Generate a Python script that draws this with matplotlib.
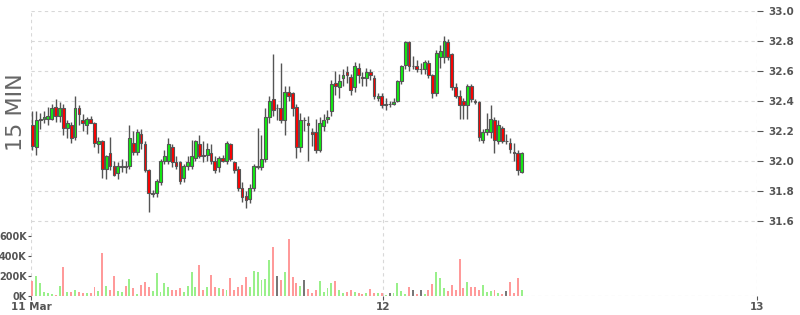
import matplotlib
matplotlib.use('Agg')
import matplotlib.pyplot as plt
import numpy as np

# 15-minute candles, 11-12 Mar
opens = [32.24, 32.09, 32.27, 32.28, 32.28, 32.28, 32.36, 32.30, 32.35, 32.22,
         32.24, 32.16, 32.35, 32.27, 32.24, 32.28, 32.25, 32.11, 32.13, 31.95,
         32.05, 31.97, 31.92, 31.96, 31.97, 31.97, 32.12, 32.06, 32.18, 32.11,
         31.94, 31.78, 31.79, 31.86, 32.00, 32.00, 32.09, 31.99, 31.99, 31.89,
         31.97, 31.97, 32.02, 32.11, 32.04, 32.04, 32.05, 32.00, 31.96, 32.02,
         32.00, 32.11, 31.99, 31.95, 31.82, 31.77, 31.75, 31.82, 31.96, 31.96,
         32.01, 32.29, 32.41, 32.35, 32.35, 32.27, 32.46, 32.45, 32.36, 32.09,
         32.27, 32.25, 32.19, 32.19, 32.07, 32.23, 32.28, 32.33, 32.52, 32.49,
         32.55, 32.59, 32.56, 32.49, 32.62, 32.56, 32.55, 32.59, 32.55, 32.42,
         32.43, 32.37, 32.38, 32.38, 32.40, 32.53, 32.64, 32.79, 32.63, 32.63,
         32.61, 32.61, 32.65, 32.57, 32.45, 32.69, 32.69, 32.79, 32.71, 32.49,
         32.43, 32.40, 32.37, 32.50, 32.40, 32.39, 32.14, 32.19, 32.19, 32.27,
         32.13, 32.22, 32.13, 32.12, 32.06, 32.05, 31.93]
highs = [32.33, 32.33, 32.32, 32.33, 32.36, 32.38, 32.41, 32.39, 32.38, 32.27,
         32.26, 32.43, 32.37, 32.31, 32.29, 32.30, 32.26, 32.16, 32.14, 32.04,
         32.16, 32.00, 31.99, 32.01, 32.00, 32.24, 32.20, 32.21, 32.21, 32.13,
         31.95, 31.81, 31.88, 32.01, 32.07, 32.15, 32.11, 32.03, 32.00, 31.98,
         32.03, 32.14, 32.14, 32.17, 32.13, 32.12, 32.11, 32.03, 32.03, 32.04,
         32.13, 32.12, 32.00, 31.97, 31.86, 31.80, 31.85, 31.98, 32.22, 32.17,
         32.35, 32.43, 32.71, 32.38, 32.65, 32.50, 32.50, 32.46, 32.38, 32.32,
         32.29, 32.30, 32.22, 32.28, 32.29, 32.31, 32.34, 32.54, 32.60, 32.58,
         32.61, 32.63, 32.58, 32.66, 32.65, 32.59, 32.62, 32.61, 32.57, 32.45,
         32.45, 32.42, 32.40, 32.42, 32.54, 32.64, 32.80, 32.80, 32.70, 32.67,
         32.65, 32.67, 32.67, 32.58, 32.74, 32.77, 32.83, 32.81, 32.72, 32.52,
         32.47, 32.42, 32.51, 32.51, 32.41, 32.40, 32.21, 32.32, 32.37, 32.29,
         32.27, 32.23, 32.18, 32.15, 32.12, 32.07, 32.06]
lows = [32.07, 32.04, 32.21, 32.25, 32.24, 32.27, 32.26, 32.26, 32.17, 32.15,
        32.12, 32.14, 32.24, 32.20, 32.18, 32.25, 32.09, 32.05, 31.89, 31.88,
        31.94, 31.90, 31.88, 31.93, 31.92, 31.95, 32.04, 32.04, 32.08, 31.93,
        31.66, 31.76, 31.76, 31.84, 31.98, 31.98, 31.96, 31.95, 31.85, 31.86,
        31.94, 31.95, 32.00, 32.02, 31.99, 32.00, 31.98, 31.92, 31.93, 31.99,
        31.98, 32.00, 31.92, 31.80, 31.73, 31.69, 31.72, 31.80, 31.95, 31.94,
        31.99, 32.25, 32.30, 32.27, 32.25, 32.17, 32.40, 32.30, 32.02, 32.06,
        32.20, 32.00, 32.10, 32.05, 32.06, 32.20, 32.25, 32.30, 32.44, 32.42,
        32.50, 32.52, 32.44, 32.46, 32.52, 32.50, 32.50, 32.54, 32.41, 32.40,
        32.35, 32.34, 32.36, 32.37, 32.39, 32.51, 32.61, 32.60, 32.61, 32.59,
        32.58, 32.58, 32.55, 32.42, 32.43, 32.62, 32.65, 32.67, 32.47, 32.42,
        32.28, 32.28, 32.28, 32.39, 32.38, 32.13, 32.12, 32.17, 32.15, 32.05,
        32.11, 32.12, 32.11, 32.05, 32.00, 31.91, 31.92]
closes = [32.10, 32.27, 32.28, 32.29, 32.30, 32.35, 32.30, 32.35, 32.22, 32.25,
          32.15, 32.35, 32.31, 32.25, 32.28, 32.25, 32.12, 32.13, 31.95, 32.03,
          31.97, 31.91, 31.97, 31.97, 31.96, 32.15, 32.06, 32.19, 32.12, 31.94,
          31.79, 31.79, 31.87, 32.00, 32.03, 32.11, 31.99, 31.97, 31.87, 31.97,
          31.99, 32.03, 32.13, 32.03, 32.03, 32.08, 32.00, 31.94, 32.02, 32.00,
          32.12, 32.01, 31.94, 31.82, 31.76, 31.74, 31.82, 31.97, 31.97, 32.01,
          32.29, 32.40, 32.34, 32.35, 32.27, 32.46, 32.43, 32.35, 32.09, 32.27,
          32.27, 32.24, 32.18, 32.07, 32.25, 32.27, 32.29, 32.51, 32.50, 32.53,
          32.57, 32.57, 32.47, 32.63, 32.57, 32.55, 32.59, 32.57, 32.43, 32.43,
          32.37, 32.38, 32.38, 32.39, 32.53, 32.63, 32.79, 32.63, 32.63, 32.61,
          32.61, 32.66, 32.57, 32.45, 32.72, 32.73, 32.80, 32.69, 32.49, 32.43,
          32.37, 32.37, 32.50, 32.41, 32.39, 32.16, 32.19, 32.21, 32.28, 32.14,
          32.24, 32.13, 32.13, 32.08, 32.05, 31.94, 32.05]
volumes_k = [150, 200, 130, 40, 30, 20, 10, 100, 290, 40,
             40, 60, 40, 30, 30, 30, 90, 50, 430, 100,
             60, 200, 50, 40, 100, 170, 80, 20, 110, 140,
             90, 50, 230, 40, 130, 90, 60, 60, 80, 40,
             100, 240, 90, 310, 60, 90, 210, 90, 80, 70,
             60, 180, 60, 90, 110, 190, 90, 250, 240, 160,
             170, 360, 490, 200, 160, 240, 570, 190, 130, 100,
             160, 70, 30, 60, 150, 40, 80, 130, 150, 60,
             30, 40, 60, 40, 30, 20, 30, 70, 30, 30,
             30, 10, 30, 30, 130, 50, 20, 90, 60, 20,
             60, 20, 60, 120, 240, 180, 80, 50, 110, 60,
             370, 80, 140, 90, 90, 60, 110, 40, 50, 60,
             30, 20, 50, 140, 30, 180, 60]

day_ticks = [-0.35, 90.4, 186.6]
day_labels = ["11 Mar", "12", "13"]
price_ticks = [31.6, 31.8, 32.0, 32.2, 32.4, 32.6, 32.8, 33.0]
vol_ticks = [0, 200, 400, 600]

o = np.array(opens); h = np.array(highs); l = np.array(lows); c = np.array(closes)
x = np.arange(len(o))

up_col, down_col = '#11ee11', '#ff0000'
body_cols = np.where(c > o, up_col, np.where(c < o, down_col, '#555555'))
vol_cols = np.where(c > o, '#99f08a', np.where(c < o, '#ff9a9a', '#777777'))

fig = plt.figure(figsize=(8, 3.15), dpi=100)
ax = fig.add_axes([0.03875, 0.0603, 0.9075, 0.9048])
ax2 = ax.twinx()

lbl = dict(color='#555555', fontsize=7.5, fontweight='bold')

# candles
ax.vlines(x, l, h, color='#555555', linewidth=1.0, zorder=2)
ax.bar(x, np.abs(c - o), bottom=np.minimum(o, c), width=0.72,
       color=body_cols, edgecolor='#555555', linewidth=0.8, zorder=3)
ax.set_ylim(31.1, 33.0)
ax.set_xlim(day_ticks[0], day_ticks[-1])
ax.set_yticks(price_ticks)
ax.set_yticklabels([f'{v:.1f}' for v in price_ticks], **lbl)
ax.yaxis.tick_right()
ax.set_xticks(day_ticks)
ax.set_xticklabels(day_labels, **lbl)
ax.grid(True, color='#d8d8d8', linestyle=(0, (3, 3)), linewidth=0.8)
ax.tick_params(axis='y', length=4, color='#555555', pad=4)
ax.tick_params(axis='x', length=3, color='#555555', pad=1)
for s in ax.spines.values():
    s.set_visible(False)

# volume
ax2.bar(x, volumes_k, width=0.5, color=vol_cols, linewidth=0, zorder=1)
ax2.set_ylim(0, 2850)
ax2.yaxis.tick_left()
ax2.set_yticks(vol_ticks)
ax2.set_yticklabels([f'{v}K' for v in vol_ticks], color='#555555',
                    fontsize=7, fontweight='bold')
ax2.tick_params(axis='y', length=2, color='#555555', pad=1)
ax2.set_xlim(day_ticks[0], day_ticks[-1])
for s in ax2.spines.values():
    s.set_visible(False)
ax2.axhline(0, color='#d0d0d0', linestyle=(0, (3, 3)), linewidth=0.8)

fig.text(0.02, 0.645, '15 MIN', rotation=90, ha='center', va='center',
         fontsize=16, color='#666666')

fig.savefig('out.png', dpi=100)
